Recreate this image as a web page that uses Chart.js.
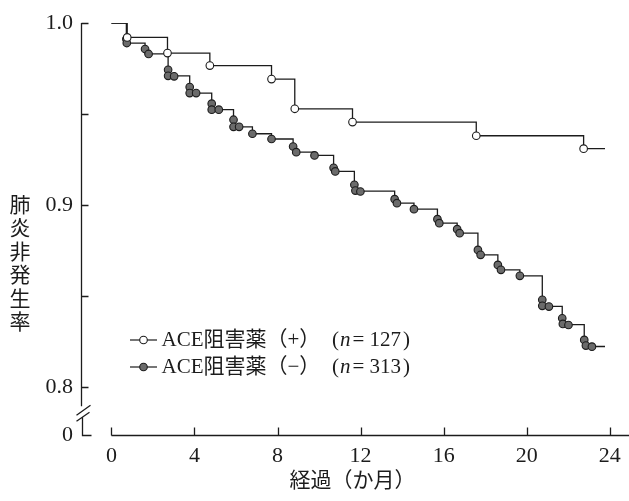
<!DOCTYPE html>
<html lang="ja">
<head>
<meta charset="utf-8">
<title>肺炎非発生率</title>
<script src="https://cdn.jsdelivr.net/npm/chart.js@4.4.1/dist/chart.umd.min.js"></script>
<style>
  html, body { margin: 0; padding: 0; background: #fff; }
  #chart { display: block; }
</style>
</head>
<body>
<canvas id="chart" width="629" height="501"></canvas>
<script>
// ACE阻害薬（+）: month of each step and the rate after it
const plusTimes  = [0, 0.76, 2.70, 4.74, 7.71, 8.83, 11.61, 17.57, 22.74, 23.77];
const plusValues = [1.0, 0.9921, 0.9835, 0.9766, 0.9692, 0.9529, 0.9456, 0.9381, 0.9310, 0.9310];

// ACE阻害薬（−）: month of each step and the rate after it
const minusTimes  = [0, 0.72, 1.62, 2.73, 3.77, 4.83, 5.88, 6.79, 7.71, 8.75, 9.78, 10.70,
                     11.70, 13.64, 14.57, 15.70, 16.65, 17.65, 18.61, 19.67, 20.75, 21.71, 22.77, 23.77];
const minusValues = [1.0, 0.9890, 0.9830, 0.9710, 0.9615, 0.9524, 0.9430, 0.9392, 0.9363, 0.9291, 0.9273, 0.9185,
                     0.9077, 0.9011, 0.8978, 0.8901, 0.8846, 0.8727, 0.8645, 0.8612, 0.8444, 0.8344, 0.8224, 0.8224];

// (−) group event marks, one circle per event
const minusMarkTimes  = [0.72, 0.74, 1.62, 1.79, 2.73, 2.73, 3.02, 3.77, 3.77, 4.08, 4.83, 4.83, 5.17,
                         5.88, 5.88, 6.15, 6.79, 7.71, 8.75, 8.90, 9.78, 10.70, 10.78, 11.70, 11.75, 11.99,
                         13.64, 13.75, 14.57, 15.70, 15.79, 16.65, 16.77, 17.65, 17.78, 18.61, 18.76, 19.67,
                         20.75, 20.75, 21.07, 21.71, 21.74, 22.01, 22.77, 22.85, 23.14];
const minusMarkValues = [0.9912, 0.9890, 0.9857, 0.9830, 0.9743, 0.9710, 0.9707, 0.9648, 0.9615, 0.9615, 0.9557, 0.9524, 0.9524,
                         0.9469, 0.9430, 0.9430, 0.9392, 0.9363, 0.9322, 0.9291, 0.9273, 0.9205, 0.9185, 0.9112, 0.9080, 0.9075,
                         0.9033, 0.9011, 0.8978, 0.8923, 0.8901, 0.8868, 0.8846, 0.8754, 0.8727, 0.8672, 0.8645, 0.8612,
                         0.8480, 0.8447, 0.8443, 0.8379, 0.8348, 0.8342, 0.8260, 0.8229, 0.8223];

const xTickValues = [0, 4, 8, 12, 16, 20, 24];
const yTickValues = [0.8, 0.85, 0.9, 0.95, 1.0];
const yTickLabels = ['0.8', '', '0.9', '', '1.0'];
const yBreakLabel = '0';
const yTitleChars = ['肺', '炎', '非', '発', '生', '率'];
const xTitle = '経過（か月）';
const legendLabels = ['ACE阻害薬（+）', 'ACE阻害薬（−）'];
const legendCounts = ['127', '313'];

const X_MIN = -1.465, X_MAX = 24.68;
const Y_MIN = 0.7738, Y_MAX = 1.0;

const INK = '#1c1c1c';
const SERIF = '"Liberation Serif", "Noto Sans CJK JP", serif';
const MARK_R = 3.8;
const legendFills = ['#ffffff', '#6b6b6b'];

function toPoints(xs, ys) {
  return xs.map((x, i) => ({ x: x, y: ys[i] }));
}

// axis lines with inward ticks and the break on the y axis
const axesPlugin = {
  id: 'axesWithBreak',
  beforeDatasetsDraw(chart) {
    const ctx = chart.ctx;
    const xs = chart.scales.x;
    const ys = chart.scales.y;
    const ax = Math.round(xs.left) + 0.5;
    const ay = Math.round(ys.bottom) + 0.5;
    const y08 = ys.getPixelForValue(0.8);
    ctx.save();
    ctx.strokeStyle = INK;
    ctx.lineWidth = 1.3;
    ctx.beginPath();
    // y axis, interrupted
    ctx.moveTo(ax, ys.getPixelForValue(Y_MAX));
    ctx.lineTo(ax, y08 + 19);
    ctx.moveTo(ax + 1, y08 + 30);
    ctx.lineTo(ax + 1, ay);
    ctx.lineTo(ax + 10, ay);
    // break slashes
    ctx.moveTo(ax - 5, y08 + 28);
    ctx.lineTo(ax + 9, y08 + 18);
    ctx.moveTo(ax - 5, y08 + 34);
    ctx.lineTo(ax + 8, y08 + 25);
    yTickValues.forEach(v => {
      const py = Math.round(ys.getPixelForValue(v)) + 0.5;
      ctx.moveTo(ax, py);
      ctx.lineTo(ax + 7, py);
    });
    // x axis from 0 to the right edge
    ctx.moveTo(xs.getPixelForValue(0), ay);
    ctx.lineTo(chart.width, ay);
    xTickValues.forEach(v => {
      const px = Math.round(xs.getPixelForValue(v)) + 0.5;
      ctx.moveTo(px, ay);
      ctx.lineTo(px, ay - 8);
    });
    ctx.stroke();
    ctx.restore();
  }
};

// vertical y title and the inset legend
const textPlugin = {
  id: 'textBits',
  afterDraw(chart) {
    const ctx = chart.ctx;
    ctx.save();
    ctx.fillStyle = INK;
    ctx.textAlign = 'center';
    ctx.textBaseline = 'middle';
    ctx.font = '21px "Noto Sans CJK JP"';
    yTitleChars.forEach((ch, i) => ctx.fillText(ch, 20, 204 + i * 23.4));

    ctx.textAlign = 'left';
    legendLabels.forEach((label, i) => {
      const y = 340 + i * 27;
      ctx.strokeStyle = INK;
      ctx.lineWidth = 1.2;
      ctx.beginPath();
      ctx.moveTo(130, y);
      ctx.lineTo(157, y);
      ctx.stroke();
      ctx.beginPath();
      ctx.arc(143.5, y, MARK_R, 0, Math.PI * 2);
      ctx.fillStyle = legendFills[i];
      ctx.fill();
      ctx.lineWidth = 1.1;
      ctx.stroke();

      ctx.fillStyle = INK;
      ctx.font = '21px ' + SERIF;
      ctx.fillText(label, 161.5, y);
      let x = 332;
      ctx.fillText('(', x, y);
      x += ctx.measureText('(').width + 1;
      ctx.font = 'italic 21px ' + SERIF;
      ctx.fillText('n', x, y);
      x += ctx.measureText('n').width + 2;
      ctx.font = '21px ' + SERIF;
      ctx.fillText('= ' + legendCounts[i], x, y);
      x += ctx.measureText('= ' + legendCounts[i]).width + 2;
      ctx.fillText(')', x, y);
    });
    ctx.restore();
  }
};

const lineBase = {
  showLine: true,
  stepped: 'before',
  borderColor: INK,
  borderWidth: 1.3,
  fill: false,
  pointBorderColor: INK,
  pointBorderWidth: 1.1
};

new Chart(document.getElementById('chart').getContext('2d'), {
  type: 'line',
  plugins: [axesPlugin, textPlugin],
  data: {
    datasets: [
      {
        label: 'ACE阻害薬（−）',
        data: toPoints(minusMarkTimes, minusMarkValues),
        showLine: false,
        pointRadius: MARK_R,
        pointBackgroundColor: '#6b6b6b',
        pointBorderColor: INK,
        pointBorderWidth: 1.1,
        order: 1
      },
      Object.assign({
        label: 'ACE阻害薬（+）',
        data: toPoints(plusTimes, plusValues),
        pointBackgroundColor: '#ffffff',
        pointRadius: (c) => (c.dataIndex === 0 || c.dataIndex === plusTimes.length - 1) ? 0 : MARK_R,
        order: 0
      }, lineBase),
      Object.assign({
        label: 'ACE阻害薬（−）',
        data: toPoints(minusTimes, minusValues),
        pointRadius: 0,
        order: 2
      }, lineBase)
    ]
  },
  options: {
    responsive: false,
    animation: false,
    events: [],
    layout: { padding: { top: 23, right: 0, bottom: 0, left: 0 } },
    plugins: {
      legend: { display: false },
      tooltip: { enabled: false }
    },
    scales: {
      x: {
        type: 'linear',
        min: X_MIN,
        max: X_MAX,
        grid: { display: false, drawTicks: false },
        border: { display: false },
        afterBuildTicks: (s) => { s.ticks = xTickValues.map(v => ({ value: v })); },
        afterFit: (s) => { s.height = 66; },
        ticks: {
          color: INK,
          font: { family: SERIF, size: 22 },
          padding: 8,
          autoSkip: false,
          maxRotation: 0,
          callback: (v) => String(v)
        },
        title: {
          display: true,
          text: xTitle,
          color: INK,
          font: { family: SERIF, size: 21 },
          padding: { top: 0, bottom: 7 }
        }
      },
      y: {
        type: 'linear',
        min: Y_MIN,
        max: Y_MAX,
        grid: { display: false, drawTicks: false },
        border: { display: false },
        afterBuildTicks: (s) => { s.ticks = [Y_MIN].concat(yTickValues).map(v => ({ value: v })); },
        afterFit: (s) => { s.width = 81; },
        ticks: {
          color: INK,
          font: { family: SERIF, size: 22 },
          padding: 8,
          autoSkip: false,
          callback: (v, i) => i === 0 ? yBreakLabel : yTickLabels[i - 1]
        }
      }
    }
  }
});
</script>
</body>
</html>
